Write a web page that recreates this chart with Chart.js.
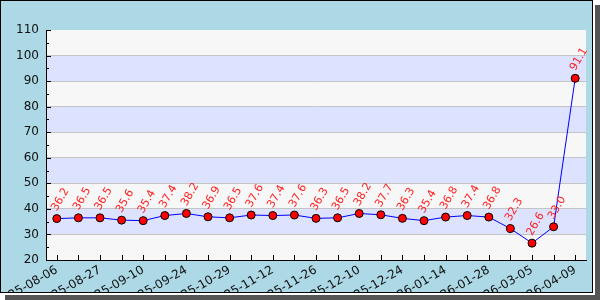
<!DOCTYPE html>
<html>
<head>
<meta charset="utf-8">
<script src="https://cdn.jsdelivr.net/npm/chart.js@4/dist/chart.umd.min.js"></script>
<style>
  html, body { margin: 0; padding: 0; background: #fff; }
  #wrap { width: 600px; height: 300px; position: relative; }
</style>
</head>
<body>
<div id="wrap"><canvas id="chart" width="600" height="300"></canvas></div>
<script>
// every other point carries a date label on the x axis
const tickDates = [
  '2025-08-06', '2025-08-27', '2025-09-10', '2025-09-24', '2025-10-29',
  '2025-11-12', '2025-11-26', '2025-12-10', '2025-12-24', '2026-01-14',
  '2026-01-28', '2026-03-05', '2026-04-09'
];
const values = [
  36.2, 36.5, 36.5, 35.6, 35.4, 37.4, 38.2, 36.9, 36.5, 37.6,
  37.4, 37.6, 36.3, 36.5, 38.2, 37.7, 36.3, 35.4, 36.8, 37.4,
  36.8, 32.3, 26.6, 33.0, 91.1
];
const yMin = 20;
const yMax = 110;
const yStep = 10;

const labels = values.map((_, i) => (i % 2 === 0 ? tickDates[i / 2] : ''));

const FONT = 'DejaVu Sans';

const framePlugin = {
  id: 'frame',
  beforeDraw(chart) {
    const ctx = chart.ctx;
    const { left, right } = chart.chartArea;
    const y = chart.scales.y;
    ctx.save();
    ctx.fillStyle = '#add8e6';
    ctx.fillRect(0, 0, 593, 293);
    // alternating bands
    for (let v = yMin; v < yMax; v += yStep) {
      const band = Math.round((v - yMin) / yStep);
      ctx.fillStyle = band % 2 === 1 ? '#dde3ff' : '#f7f7f7';
      const y1 = y.getPixelForValue(v + yStep);
      const y0 = y.getPixelForValue(v);
      ctx.fillRect(left, y1, right - left, y0 - y1);
    }
    ctx.restore();
  },
  afterDraw(chart) {
    const ctx = chart.ctx;
    const { left, bottom } = chart.chartArea;
    const x = chart.scales.x;
    const y = chart.scales.y;
    ctx.save();
    // inward ticks
    ctx.strokeStyle = '#000';
    ctx.lineWidth = 1;
    ctx.beginPath();
    values.forEach((_, i) => {
      const px = Math.round(x.getPixelForValue(i)) + 0.5;
      ctx.moveTo(px, bottom);
      ctx.lineTo(px, bottom - 5);
    });
    for (let v = yMin; v <= yMax; v += yStep / 2) {
      const py = Math.round(y.getPixelForValue(v)) + 0.5;
      const len = (v - yMin) % yStep === 0 ? 5 : 3;
      ctx.moveTo(left, py);
      ctx.lineTo(left + len, py);
    }
    ctx.stroke();
    // white gap + drop shadow outside the frame
    ctx.fillStyle = '#fff';
    ctx.fillRect(593, 0, 7, 300);
    ctx.fillRect(0, 293, 600, 7);
    ctx.fillStyle = '#555';
    ctx.fillRect(595, 5, 5, 295);
    ctx.fillRect(5, 295, 595, 5);
    ctx.strokeStyle = '#000';
    ctx.strokeRect(0.5, 0.5, 592, 292);
    ctx.restore();
  }
};

const valueLabels = {
  id: 'valueLabels',
  afterDatasetsDraw(chart) {
    const ctx = chart.ctx;
    const meta = chart.getDatasetMeta(0);
    ctx.save();
    ctx.fillStyle = '#ff2020';
    ctx.font = '11px "' + FONT + '"';
    ctx.textAlign = 'left';
    ctx.textBaseline = 'alphabetic';
    meta.data.forEach((pt, i) => {
      ctx.save();
      ctx.translate(pt.x, pt.y - 7);
      ctx.rotate(-60 * Math.PI / 180);
      ctx.fillText(values[i].toFixed(1), 0, 0);
      ctx.restore();
    });
    ctx.restore();
  }
};

new Chart(document.getElementById('chart'), {
  type: 'line',
  data: {
    labels,
    datasets: [{
      data: values,
      borderColor: '#0000ff',
      borderWidth: 1,
      tension: 0,
      pointRadius: 4,
      pointBackgroundColor: '#ff0000',
      pointBorderColor: '#000',
      pointBorderWidth: 1
    }]
  },
  options: {
    responsive: false,
    animation: false,
    layout: { padding: { top: 30, right: 14, left: 0, bottom: 0 } },
    plugins: {
      legend: { display: false },
      tooltip: { enabled: false }
    },
    scales: {
      x: {
        type: 'category',
        offset: true,
        grid: { display: false, drawTicks: false },
        border: { color: '#000', width: 1 },
        afterFit: s => {
          s.height = 40;
          s.paddingLeft = 0;
          s.paddingRight = 0;
        },
        ticks: {
          autoSkip: false,
          minRotation: 30,
          maxRotation: 30,
          padding: 3,
          color: '#111',
          font: { family: FONT, size: 12 }
        }
      },
      y: {
        min: yMin,
        max: yMax,
        afterFit: s => {
          s.width = 46;
          s.paddingTop = 0;
          s.paddingBottom = 0;
        },
        grid: {
          drawTicks: false,
          color: ctx => (ctx.tick && ctx.tick.value === yMax ? 'rgba(0,0,0,0)' : '#c4c4c4')
        },
        border: { color: '#000', width: 1 },
        ticks: {
          stepSize: yStep,
          padding: 7,
          color: '#111',
          font: { family: FONT, size: 12 }
        }
      }
    }
  },
  plugins: [framePlugin, valueLabels]
});
</script>
</body>
</html>
